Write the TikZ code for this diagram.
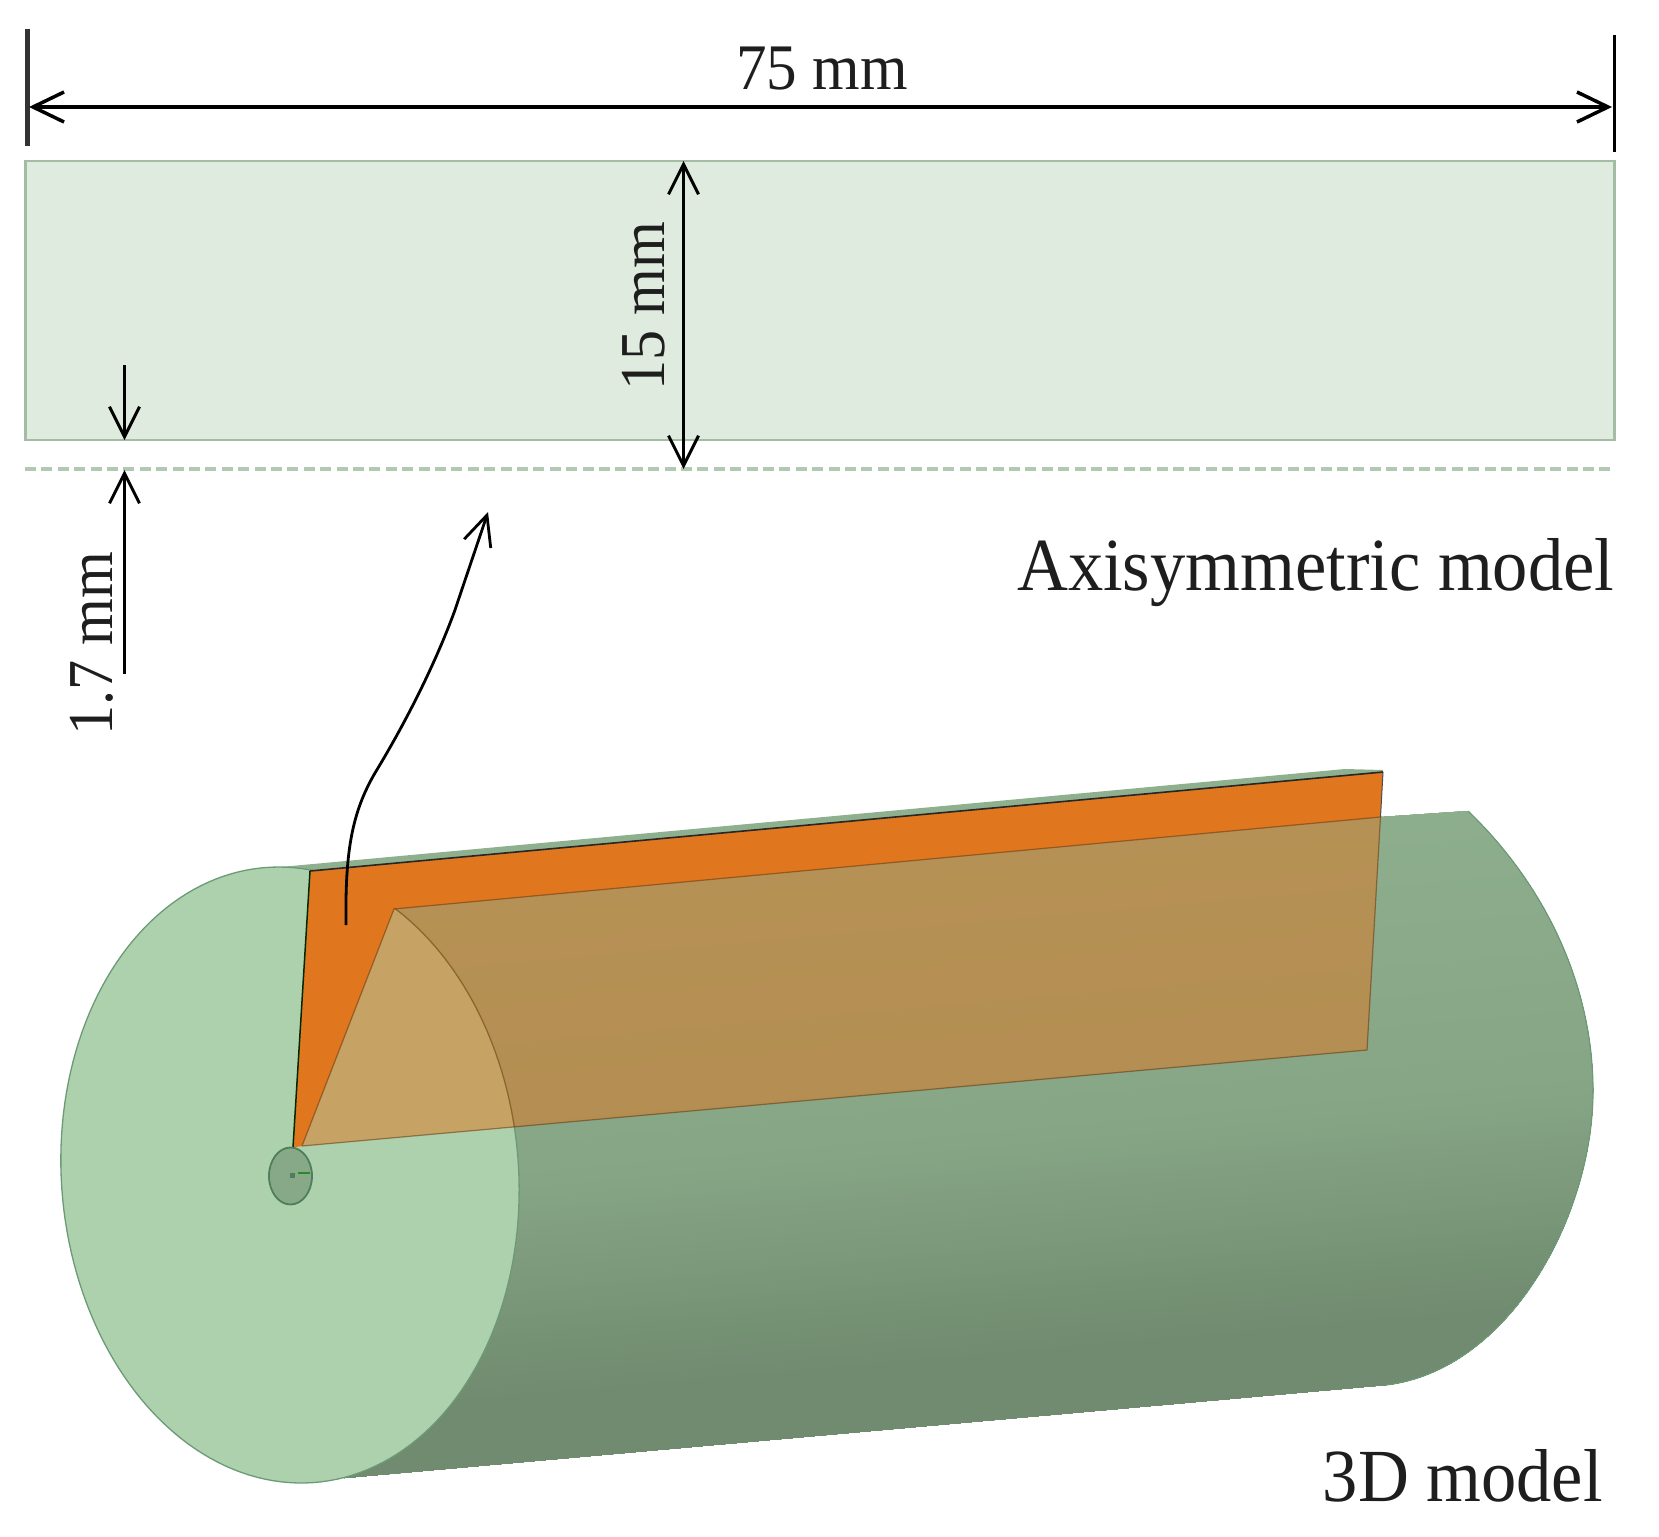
\documentclass[tikz,border=0pt]{standalone}
\usepackage{fontspec}
\setmainfont[FakeStretch=0.94]{Liberation Serif}
\usetikzlibrary{arrows.meta}
\definecolor{planefill}{HTML}{E0EBE0}
\definecolor{planeedge}{HTML}{A3BCA3}
\definecolor{axisdash}{HTML}{B3C8B3}
\definecolor{facefill}{HTML}{ADD1AD}
\definecolor{faceedge}{HTML}{6C9A76}
\definecolor{bodytop}{HTML}{8FB08F}
\definecolor{bodymid}{HTML}{86A585}
\definecolor{bodylow}{HTML}{708B6F}
\definecolor{orangecut}{HTML}{E0761E}
\definecolor{holeedge}{HTML}{4F7F5A}
\definecolor{holefill}{HTML}{88A988}
\definecolor{inktext}{HTML}{1E1E1E}
\tikzset{
  dimarrow/.style={draw=black,line width=3pt,-{Straight Barb[length=30pt,width=30pt,line width=3pt]}},
  bigtext/.style={font=\fontsize{75}{80}\selectfont,text=inktext,inner sep=0pt,anchor=base east},
  dimtext/.style={font=\fontsize{65}{70}\selectfont,text=inktext,inner sep=0pt,anchor=base},
  declare function={fx(\t)=290+229*cos(\t)+9*sin(\t); fy(\t)=1175+3*cos(\t)+308*sin(\t);},
}
\begin{document}
\begin{tikzpicture}[x=1pt,y=-1pt]
\useasboundingbox (0,0) rectangle (1659,1536);
% ---- axisymmetric model
\coordinate (rtl) at (25.5,161);
\coordinate (rbr) at (1614.5,440);
\fill[planefill,draw=planeedge,line width=2.5pt] (rtl) rectangle (rbr);
\coordinate (axl) at (25,469);
\coordinate (axr) at (1612,469);
\draw[axisdash,line width=3.5pt,dash pattern=on 11pt off 5.4pt] (axl) -- (axr);
% ---- extension lines and dimensions
\coordinate (tl1) at (27.5,29); \coordinate (tl2) at (27.5,146);
\coordinate (tr1) at (1614,35); \coordinate (tr2) at (1614,152);
\draw[line width=4.5pt,draw=black!80] (tl1) -- (tl2);
\draw[line width=3pt,draw=black] (tr1) -- (tr2);
\coordinate (wa) at (29,107); \coordinate (wb) at (1612,107);
\draw[dimarrow,line width=3.5pt,{Straight Barb[length=31pt,width=30pt,line width=3.5pt]}-{Straight Barb[length=31pt,width=30pt,line width=3.5pt]}] (wa) -- (wb);
\node[dimtext] (w) at (822,89.5) {75 mm};
\coordinate (ha) at (683.5,161); \coordinate (hb) at (683.5,469);
\draw[dimarrow,{Straight Barb[length=30pt,width=30pt,line width=3pt]}-{Straight Barb[length=30pt,width=30pt,line width=3pt]}] (ha) -- (hb);
\node[dimtext,rotate=90,font=\fontsize{64}{70}\selectfont] (h) at (664,306) {15 mm};
\coordinate (ga) at (124.5,365); \coordinate (gb) at (124.5,440);
\draw[dimarrow] (ga) -- (gb);
\coordinate (gc) at (124.5,674); \coordinate (gd) at (124.5,470);
\draw[dimarrow] (gc) -- (gd);
\node[dimtext,rotate=90,font=\fontsize{64}{70}\selectfont] (g) at (112,644) {1.7 mm};
\node[bigtext] (axi) at (1614.5,590) {Axisymmetric model};
\node[bigtext] (tdm) at (1603,1501) {3D model};
% ---- cylinder body with gradient
\begin{scope}
\clip (290,1175) -- (270,867) -- (394,909) -- (1380.5,817) -- (1468,811)
  .. controls (1545,885) and (1593,985) .. (1593,1091)
  .. controls (1593,1215) and (1510,1370) .. (1386,1385)
  -- (344,1478) -- cycle;
\begin{scope}[rotate around={5:(900,1100)}]
\fill[bodytop] (-400,400) rectangle (2300,1900);
\foreach \i in {0,...,36}{
  \pgfmathsetmacro{\pp}{100-\i*100/36}
  \pgfmathsetmacro{\yy}{790+\i*10}
  \fill[color=bodytop!\pp!bodymid] (-400,\yy) rectangle (2300,1900);
}
\foreach \i in {0,...,42}{
  \pgfmathsetmacro{\pp}{100-\i*100/42}
  \pgfmathsetmacro{\yy}{1150+\i*5}
  \fill[color=bodymid!\pp!bodylow] (-400,\yy) rectangle (2300,1900);
}
\end{scope}
\end{scope}
\draw[faceedge,line width=1.2pt]
  (1468,811) .. controls (1545,885) and (1593,985) .. (1593,1091)
  .. controls (1593,1215) and (1510,1370) .. (1386,1385);
% ---- sliver above the cut
\coordinate (s1) at (275,867.5); \coordinate (s2) at (1345,769); \coordinate (s3) at (1383,770);
\coordinate (p1) at (310,871); \coordinate (p2) at (1383,772); \coordinate (p3) at (1367,1050);
\coordinate (i1) at (394,909); \coordinate (i2) at (1380.5,817); \coordinate (tipl) at (293,1147.5); \coordinate (tipr) at (302,1146);
\fill[bodytop] (s1) -- (s2) -- (s3) -- (p2) -- (p1) -- cycle;
% ---- front face
\fill[facefill] plot[domain=0:360,samples=180,variable=\t] ({fx(\t)},{fy(\t)}) -- cycle;
\draw[faceedge,line width=1.3pt] plot[domain=0:360,samples=180,variable=\t] ({fx(\t)},{fy(\t)}) -- cycle;
% ---- solid part of the section
\fill[orangecut] (p1) -- (p2) -- (i2) -- (i1) -- (tipr) -- (tipl) -- cycle;
\draw[black!85,line width=1.6pt] (p1) -- (p2);
\draw[black!60!green!40!black,line width=1.5pt] (p1) -- (tipl);
\draw[black!70,line width=1pt] (p2) -- (i2);
% ---- section seen through the cylinder
\fill[orangecut,opacity=0.5] (i1) -- (i2) -- (p3) -- (tipr) -- cycle;
\draw[draw=black!55!orangecut,opacity=0.55,line width=1.2pt] (tipr) -- (i1) -- (i2) -- (p3) -- (tipr);
\draw[draw=black!50!orangecut,opacity=0.45,line width=1.2pt] plot[domain=-60.6:-9.5,samples=40,variable=\t] ({fx(\t)},{fy(\t)});
% ---- hole
\fill[holefill,draw=holeedge,line width=1.8pt] (290.5,1176) ellipse [x radius=21.5,y radius=28.5];
\fill[holeedge] (290,1173) rectangle (295,1178);
\coordinate (m1) at (298,1173); \coordinate (m2) at (310,1173);
\draw[black!30!holeedge!70!green,line width=2.2pt] (m1) -- (m2);
% ---- curved pointer
\coordinate (ca) at (346,925); \coordinate (cb) at (488,512);
\draw[draw=black,line width=2.8pt,-{Straight Barb[length=30pt,width=28pt,line width=2.8pt]}]
  (ca) .. controls (345,850) and (352,810) .. (378,768)
  .. controls (402,728) and (433,670) .. (455,610)
  .. controls (465,580) and (477,545) .. (cb);
\end{tikzpicture}
\end{document}
